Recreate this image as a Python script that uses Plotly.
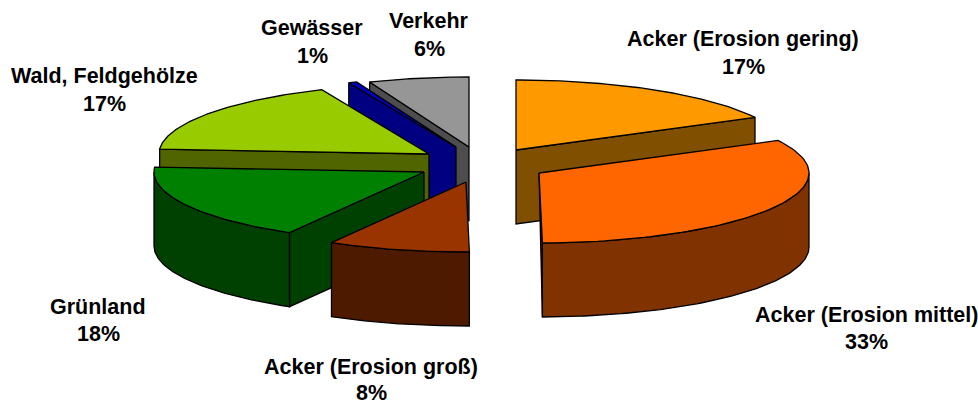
import numpy as np
import plotly.graph_objects as go

# ---- data (clockwise from 12 o'clock) ----
categories = ["Acker (Erosion gering)", "Acker (Erosion mittel)", "Acker (Erosion groß)",
              "Grünland", "Wald, Feldgehölze", "Gewässer", "Verkehr"]
values = [17.3, 32.5, 8.5, 17.8, 17.4, 0.5, 6.0]
percent_labels = ["17%", "33%", "8%", "18%", "17%", "1%", "6%"]

# ---- styling ----
top_colors = ["#FF9900", "#FF6600", "#993300", "#008000", "#99CC00", "#0000C0", "#969696"]
side_colors = ["#805000", "#803300", "#4D1A00", "#004000", "#506400", "#000080", "#4D4D4D"]

# ---- pseudo-3D geometry ----
RX, RY, DEPTH = 270, 70, 74
apex = [(516, 150), (539, 173), (466, 182), (424, 172), (429, 154), (456, 147), (469, 147)]
draw_order = [6, 5, 4, 3, 2, 0, 1]
name_pos = [(743, 39), (866, 315), (371, 367), (98, 307), (104, 76), (312, 28), (429, 21)]
pct_pos = [(743, 67), (866, 342), (371, 393), (98, 334), (104, 104), (312, 56), (429, 49)]

fractions = np.array(values) / sum(values)
edges = np.concatenate([[0], np.cumsum(fractions)]) * 2 * np.pi

fig = go.Figure()


def poly(xs, ys, color):
    xs = list(xs) + [xs[0]]
    ys = list(ys) + [ys[0]]
    fig.add_trace(go.Scatter(x=xs, y=ys, mode="lines", fill="toself", fillcolor=color,
                             line=dict(color="#000000", width=1.3), hoverinfo="skip",
                             showlegend=False))


for i in draw_order:
    a0, a1 = edges[i], edges[i + 1]
    cx, cy = apex[i]
    ang = np.linspace(a0, a1, 80)
    ax = cx + RX * np.sin(ang)
    ay = cy - RY * np.cos(ang)
    # radial walls turned to the viewer only
    for a, visible in ((a0, np.sin(a0) < 0), (a1, np.sin(a1) > 0)):
        if not visible:
            continue
        px, py = cx + RX * np.sin(a), cy - RY * np.cos(a)
        if abs(np.sin(a)) < 0.05:   # nearly edge-on: the lower inner corner stays hidden
            poly([cx, px, px], [cy, py, py + DEPTH], side_colors[i])
        else:
            poly([cx, px, px, cx], [cy, py, py + DEPTH, cy + DEPTH], side_colors[i])
    # outer wall: only the part turned to the viewer
    lo, hi = max(a0, np.pi / 2), min(a1, 3 * np.pi / 2)
    if hi > lo:
        w = np.linspace(lo, hi, 80)
        wx = cx + RX * np.sin(w)
        wy = cy - RY * np.cos(w)
        poly(list(wx) + list(wx[::-1]), list(wy) + list((wy + DEPTH)[::-1]), side_colors[i])
    # top face
    poly([cx] + list(ax), [cy] + list(ay), top_colors[i])

font = dict(family="Liberation Sans, Arial, sans-serif", size=21.5, color="#000000")
for name, pct, np_, pp in zip(categories, percent_labels, name_pos, pct_pos):
    for txt, (x, y) in ((name, np_), (pct, pp)):
        fig.add_annotation(x=x, y=y, text=f"<b>{txt}</b>", showarrow=False, font=font,
                           xanchor="center", yanchor="middle")

fig.update_xaxes(visible=False, range=[0, 978], fixedrange=True)
fig.update_yaxes(visible=False, range=[401, 0], fixedrange=True)
fig.update_layout(width=978, height=401, margin=dict(l=0, r=0, t=0, b=0),
                  plot_bgcolor="#FFFFFF", paper_bgcolor="#FFFFFF", showlegend=False)
fig.write_html("out.html", config=dict(displayModeBar=False),
               post_script="document.body.style.margin='0';document.body.style.overflow='hidden';")
